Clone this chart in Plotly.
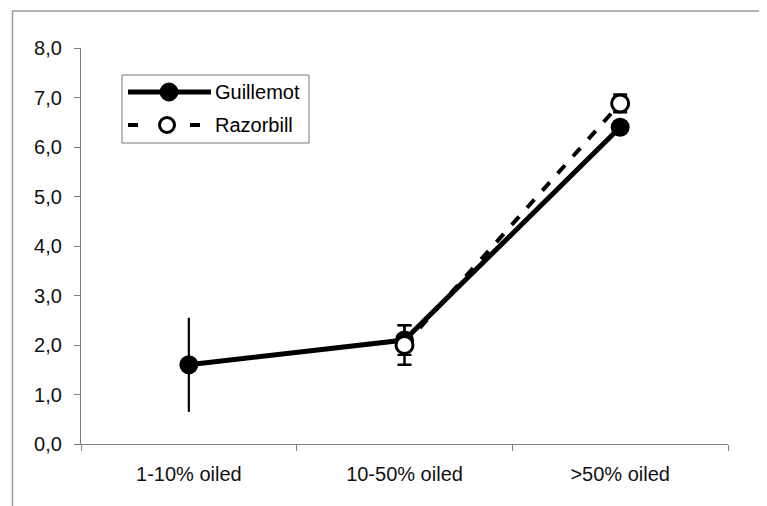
import plotly.graph_objects as go

categories = ["1-10% oiled", "10-50% oiled", ">50% oiled"]
guillemot = [1.6, 2.1, 6.4]
guillemot_err = [0.95, 0.3, 0.1]
razorbill = [None, 2.0, 6.88]
razorbill_err = [None, 0.4, 0.18]
y_ticks = [0, 1, 2, 3, 4, 5, 6, 7, 8]

W, H = 767, 506
L, R, T, B = 73, 47, 40, 70
PW, PH = W - L - R, H - T - B
FONT = "Liberation Sans, Arial, sans-serif"
FS = 20

def px(x):
    return (x - L) / PW

def py(y):
    return (H - B - y) / PH

fig = go.Figure()

# Guillemot error bars (first point drawn without caps)
cap_widths = [0, 7, 7]
for i, c in enumerate(categories):
    fig.add_trace(go.Scatter(
        x=[c], y=[guillemot[i]], mode="markers",
        marker=dict(size=1, color="rgba(0,0,0,0)"),
        error_y=dict(type="data", array=[guillemot_err[i]], visible=True,
                     color="black", thickness=2.2, width=cap_widths[i]),
        showlegend=False, hoverinfo="skip"))

fig.add_trace(go.Scatter(
    x=categories, y=guillemot, mode="lines+markers", name="Guillemot",
    line=dict(color="black", width=5),
    marker=dict(symbol="circle", size=19, color="black"),
    showlegend=False))

fig.add_trace(go.Scatter(
    x=categories, y=razorbill, mode="lines+markers", name="Razorbill",
    line=dict(color="black", width=4, dash="11px,12px"),
    marker=dict(symbol="circle", size=17, color="white",
                line=dict(color="black", width=3)),
    error_y=dict(type="data", array=razorbill_err, visible=True,
                 color="black", thickness=2.5, width=7),
    showlegend=False))

shapes = []
# outer frame
shapes.append(dict(type="rect", xref="paper", yref="paper",
                   x0=px(4.5), x1=px(765), y0=py(504), y1=py(3),
                   line=dict(color="#9a9a9a", width=1.5), layer="below"))
# legend box
shapes.append(dict(type="rect", xref="paper", yref="paper",
                   x0=px(114), x1=px(301), y0=py(135), y1=py(67),
                   line=dict(color="#777777", width=1), fillcolor="white"))
# guillemot legend sample
shapes.append(dict(type="line", xref="paper", yref="paper",
                   x0=px(120), x1=px(203), y0=py(84), y1=py(84),
                   line=dict(color="black", width=5)))
shapes.append(dict(type="circle", xref="paper", yref="paper",
                   xsizemode="pixel", ysizemode="pixel",
                   xanchor=px(161), yanchor=py(84),
                   x0=-9, x1=9, y0=-9, y1=9,
                   fillcolor="black", line=dict(color="black", width=1)))
# razorbill legend sample
for a, b in [(120, 130), (182, 192)]:
    shapes.append(dict(type="line", xref="paper", yref="paper",
                       x0=px(a), x1=px(b), y0=py(117), y1=py(117),
                       line=dict(color="black", width=4)))
shapes.append(dict(type="circle", xref="paper", yref="paper",
                   xsizemode="pixel", ysizemode="pixel",
                   xanchor=px(159), yanchor=py(117),
                   x0=-7.5, x1=7.5, y0=-7.5, y1=7.5,
                   fillcolor="white", line=dict(color="black", width=3)))

annotations = [
    dict(xref="paper", yref="paper", x=px(205), y=py(84), text="Guillemot",
         showarrow=False, xanchor="left", yanchor="middle",
         font=dict(family=FONT, size=FS, color="black")),
    dict(xref="paper", yref="paper", x=px(205), y=py(117), text="Razorbill",
         showarrow=False, xanchor="left", yanchor="middle",
         font=dict(family=FONT, size=FS, color="black")),
]

fig.update_layout(
    width=W, height=H,
    margin=dict(l=L, r=R, t=T, b=B, pad=0),
    paper_bgcolor="white", plot_bgcolor="white",
    separators=",.",
    font=dict(family=FONT, size=FS, color="black"),
    shapes=shapes, annotations=annotations,
    xaxis=dict(type="category", range=[-0.5, 2.5], tickson="boundaries",
               showgrid=False, zeroline=False, showline=True,
               linecolor="#808080", linewidth=1.2,
               ticks="outside", ticklen=6, tickcolor="#808080", tickwidth=1.2,
               ticklabelstandoff=12,
               tickfont=dict(family=FONT, size=FS, color="#111111")),
    yaxis=dict(range=[0, 8], tickvals=y_ticks, tickformat=".1f",
               showgrid=False, zeroline=False, showline=True,
               linecolor="#808080", linewidth=1.2,
               ticks="outside", ticklen=6, tickcolor="#808080", tickwidth=1.2,
               ticklabelstandoff=8,
               tickfont=dict(family=FONT, size=FS, color="#111111")),
)

fig.write_html("out.html")
